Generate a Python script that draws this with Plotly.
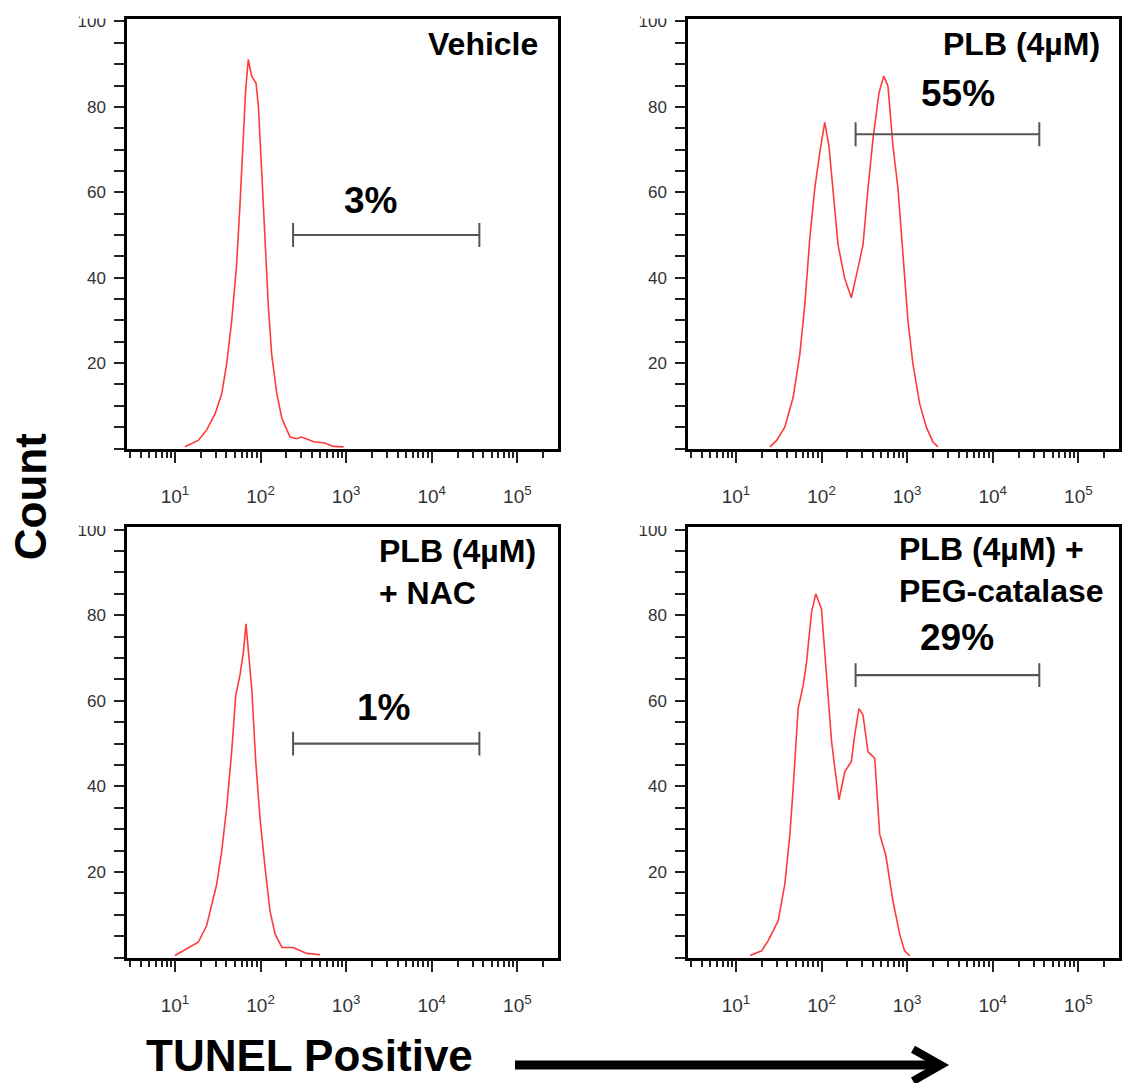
import plotly.graph_objects as go

W, H = 1125, 1083

# ---------------- data (TUNEL intensity, cell count) ----------------
vehicle_x = [13.1, 18.7, 23.4, 29.4, 35.2, 40.2, 46.0, 52.5, 57.5, 63.1, 67.1, 71.9, 78.9, 88.5,
             94.4, 103.3, 113, 123, 135, 155, 178, 221, 263, 302, 417, 562, 708, 933]
vehicle_y = [0.4, 1.9, 4.3, 8.1, 12.8, 19.8, 29.8, 43, 57, 72.5, 84.1, 91.1, 87.2, 85.6,
             80.2, 64.7, 49.2, 33.7, 22, 12.8, 7, 2.7, 2.3, 2.7, 1.6, 1.3, 0.5, 0.4]

plb_x = [24.9, 29.9, 37.2, 46.6, 55.7, 63.8, 72.9, 83.4, 95.5, 109, 122, 136, 156, 186, 223, 267,
         305, 349, 399, 469, 532, 597, 682, 782, 893, 1023, 1169, 1400, 1675, 1995, 2291]
plb_y = [0.4, 1.9, 5, 12, 22, 33.7, 49.2, 60.9, 69.4, 76.4, 70.9, 60.9, 47.7, 39.9, 35.3, 42.3,
         47.7, 60.9, 72.5, 83.3, 87.2, 84.9, 70.9, 60.9, 45.3, 29.8, 19.8, 10.5, 5, 1.6, 0.4]

nac_x = [10, 13.7, 18.7, 23.4, 26.9, 30.7, 35.2, 40.2, 46.0, 51.3, 57.5, 63.1, 67.6, 71.9,
         78.9, 87.9, 98.6, 113, 129, 148, 178, 240, 347, 497]
nac_y = [0.5, 2.0, 3.6, 7.4, 12.5, 17.1, 24.9, 35, 48.1, 61.3, 66, 71.4, 78, 72.2,
         62.9, 45.8, 32.6, 21, 10.9, 5.5, 2.4, 2.4, 1.0, 0.7]

cat_x = [14.6, 20.0, 23.8, 31.1, 37.2, 42.7, 46.6, 50.1, 53.3, 61.0, 66.8, 76.4, 85.7, 99.8,
         109, 119, 131, 143, 160, 187, 223, 244, 274, 305, 349, 418, 478, 561, 682, 818, 933, 1072]
cat_y = [0.5, 1.6, 4, 8.6, 17.1, 28.8, 39.6, 50.5, 58.2, 63.6, 69, 80.7, 85, 81.5,
         71.4, 59.8, 50.5, 44.3, 36.9, 43.5, 45.8, 52, 58.2, 56.7, 48.1, 46.6, 28.8, 24.1, 13.3, 5.5, 1.6, 0.5]

panel_titles = ["Vehicle", "PLB (4µM)", "PLB (4µM)<br>+ NAC", "PLB (4µM) +<br>PEG-catalase"]
percent_labels = ["3%", "55%", "1%", "29%"]
gate_low = [240, 250, 240, 250]
gate_high = [36000, 35000, 36000, 35000]
gate_level = [50, 73.6, 50, 66]

y_tick_vals = [20, 40, 60, 80, 100]
x_tick_vals = [10, 100, 1000, 10000, 100000]
x_tick_text = ["10<sup>1</sup>", "10<sup>2</sup>", "10<sup>3</sup>", "10<sup>4</sup>", "10<sup>5</sup>"]

series_x = [vehicle_x, plb_x, nac_x, cat_x]
series_y = [vehicle_y, plb_y, nac_y, cat_y]

# ---------------- layout helpers ----------------
def px(x):
    return x / W

def py(y):
    return 1 - y / H

x_domains = [[px(127), px(558)], [px(688), px(1119)], [px(127), px(558)], [px(688), px(1119)]]
y_domains = [[py(445), py(13)], [py(445), py(13)], [py(957), py(524)], [py(957), py(524)]]

minor_vals = []
for dec in [1, 10, 100, 1000, 10000, 100000]:
    for m in range(2, 10):
        v = m * dec
        if 2.75 < v < 2.9e5:
            minor_vals.append(v)

FONT = "Liberation Sans, Arial, Helvetica, sans-serif"
RED = "#ff3a3a"
GATE = "#555555"

fig = go.Figure()
layout = dict(width=W, height=H, margin=dict(l=0, r=0, t=0, b=0),
              paper_bgcolor="white", plot_bgcolor="white", showlegend=False,
              font=dict(family=FONT, color="#333"))

for i in range(4):
    xa = "x" if i == 0 else "x%d" % (i + 1)
    ya = "y" if i == 0 else "y%d" % (i + 1)
    fig.add_trace(go.Scatter(x=series_x[i], y=series_y[i], mode="lines",
                             line=dict(color=RED, width=1.6), xaxis=xa, yaxis=ya,
                             hoverinfo="skip"))
    fig.add_trace(go.Scatter(x=[gate_low[i], gate_high[i]], y=[gate_level[i], gate_level[i]],
                             mode="lines+markers",
                             line=dict(color=GATE, width=2.2),
                             marker=dict(symbol="line-ns", size=17,
                                         line=dict(color=GATE, width=2)),
                             xaxis=xa, yaxis=ya, hoverinfo="skip"))
    kx = "xaxis" if i == 0 else "xaxis%d" % (i + 1)
    ky = "yaxis" if i == 0 else "yaxis%d" % (i + 1)
    layout[kx] = dict(type="log", range=[0.44, 5.475], domain=x_domains[i], anchor=ya,
                      showline=True, linecolor="black", linewidth=2.5, mirror=True,
                      ticks="outside", ticklen=12, tickwidth=1.5, tickcolor="#222",
                      tickmode="array", tickvals=x_tick_vals, ticktext=x_tick_text,
                      tickfont=dict(size=19, color="#333", family=FONT),
                      ticklabelstandoff=17,
                      showgrid=False, zeroline=False, fixedrange=True,
                      minor=dict(tickmode="array", tickvals=minor_vals, ticks="outside",
                                 ticklen=7, tickwidth=1.5, tickcolor="#222", showgrid=False))
    layout[ky] = dict(range=[0, 100.6], domain=y_domains[i], anchor=xa,
                      showline=True, linecolor="black", linewidth=2.5, mirror=True,
                      ticks="outside", ticklen=10, tickwidth=1.5, tickcolor="#222",
                      tickmode="array", tickvals=y_tick_vals,
                      tickfont=dict(size=17, color="#333", family=FONT),
                      ticklabelstandoff=5,
                      showgrid=False, zeroline=False, fixedrange=True,
                      minor=dict(dtick=5, tick0=0, ticks="outside", ticklen=10,
                                 tickwidth=1.5, tickcolor="#222", showgrid=False))

fig.update_layout(**layout)

annotations = []
# panel titles
title_pos = [(540, 38, "right"), (1102, 38, "right"), (377, 569, "left"), (897, 567, "left")]
for t, (x, y, anc) in zip(panel_titles, title_pos):
    annotations.append(dict(text=t, x=px(x), y=py(y), xref="paper", yref="paper",
                            xanchor=anc, yanchor="middle", align="left", showarrow=False,
                            font=dict(size=32, color="black", family=FONT, weight="bold")))
# percent labels
pct_pos = [(370, 196), (958, 88), (383, 705), (957, 635)]
for t, (x, y) in zip(percent_labels, pct_pos):
    annotations.append(dict(text=t, x=px(x), y=py(y), xref="paper", yref="paper",
                            xanchor="center", yanchor="middle", showarrow=False,
                            font=dict(size=37, color="black", family=FONT, weight="bold")))
annotations.append(dict(text="Count", x=px(30), y=py(494), xref="paper", yref="paper",
                        xanchor="center", yanchor="middle", textangle=-90, showarrow=False,
                        font=dict(size=44, color="black", family=FONT, weight="bold")))
annotations.append(dict(text="TUNEL Positive", x=px(145), y=py(1055.5), xref="paper", yref="paper",
                        xanchor="left", yanchor="middle", showarrow=False, borderpad=0,
                        font=dict(size=44, color="black", family=FONT, weight="bold")))
fig.update_layout(annotations=annotations)

shapes = [
    # arrow shaft and head
    dict(type="line", xref="paper", yref="paper", x0=px(515), x1=px(937), y0=py(1065), y1=py(1065),
         line=dict(color="black", width=9)),
    dict(type="path", xref="paper", yref="paper",
         path="M %f %f L %f %f L %f %f" % (px(913), py(1049), px(941), py(1065), px(913), py(1081)),
         line=dict(color="black", width=8)),
]
# crop of the "100" labels at the top of each panel (as in the source image)
for (x0, x1) in [(80, 124), (641, 685)]:
    shapes.append(dict(type="rect", xref="paper", yref="paper", layer="above",
                       x0=px(x0), x1=px(x1), y0=py(12.5), y1=py(0), fillcolor="white",
                       line=dict(width=0)))
    shapes.append(dict(type="rect", xref="paper", yref="paper", layer="above",
                       x0=px(x0), x1=px(x1), y0=py(523), y1=py(508), fillcolor="white",
                       line=dict(width=0)))
fig.update_layout(shapes=shapes)

fig.write_html("out.html", config={"displayModeBar": False},
               post_script="document.body.style.margin='0';document.body.style.overflow='hidden';")
